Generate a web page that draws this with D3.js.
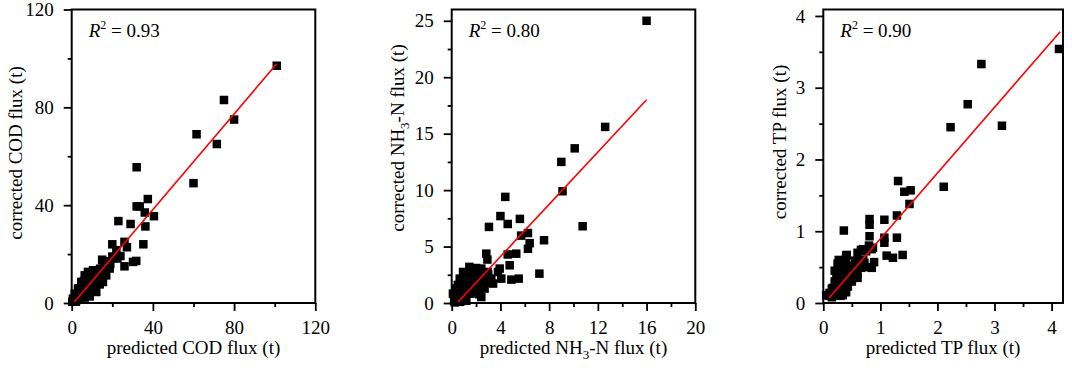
<!DOCTYPE html>
<html>
<head>
<meta charset="utf-8">
<script src="https://cdn.jsdelivr.net/npm/d3@7"></script>
<style>
  body { margin: 0; background: #fff; }
  svg text { font-family: "Liberation Serif", "Times New Roman", serif; fill: #000; }
</style>
</head>
<body>
<div id="chart"></div>
<script>
/* three scatter panels: predicted vs corrected flux */

// COD panel: [predicted, corrected]
const codData = [
  [101, 97], [75, 83], [80, 75], [61.5, 69], [71.5, 65], [60, 49], [32, 55.5],
  [37.5, 42.5], [32, 39.5], [33.5, 39.5], [36, 37], [40.5, 35.5], [36.3, 31.3],
  [23, 33.5], [29, 32.3], [35.3, 24], [20, 24], [26, 25], [27.2, 22.8], [22, 21.6],
  [24, 19.2], [31.8, 17.2], [30.2, 16.8], [26, 15], [15, 17.7], [17, 16.8],
  [20.8, 18.4], [22.5, 18.2], [18.7, 14.1], [10.5, 13.4], [8, 12.7], [6.4, 11.3],
  [13.8, 11.3], [17, 11.3], [15.4, 12.7], [12.1, 10], [4.7, 8.6], [8, 7.9],
  [13.8, 7.6], [15.4, 8.6], [10.5, 5.9], [3.1, 5.9], [7.2, 5.2], [12.1, 4.5],
  [1.5, 3.8], [5.6, 3.1], [8.9, 2.7], [0.6, 1.8], [3.9, 1.8], [2.3, 1.1],
  [0.3, 0.5], [6.4, 2.2], [9, 9.5], [11, 8], [6, 7], [7, 9], [4, 4], [3, 2.8],
  [12, 12.5], [14, 14], [16, 15], [18, 17], [9, 11], [11, 10.5], [5, 6.5],
  [2, 2], [3, 4], [4, 6], [5, 8], [6, 9], [7, 11], [8, 10], [9, 7], [10, 9],
  [11, 12], [12, 9], [13, 10], [14, 12], [15, 14], [16, 13], [17, 15], [19, 16],
  [20, 19], [2, 0.5], [5, 3], [7, 4], [9, 5], [10, 6.5], [13, 8.5]
];

// NH3-N panel
const nhData = [
  [16, 25], [12.6, 15.6], [10.1, 13.7], [9, 12.5], [9.1, 9.9], [10.75, 6.8],
  [4.4, 9.4], [4, 7.7], [4.6, 7], [3.06, 6.74], [5.6, 7.45], [5.7, 5.97],
  [6.26, 6.2], [6.4, 5.3], [6.26, 4.8], [7.58, 5.56], [7.2, 2.6], [2.84, 4.37],
  [2.93, 3.85], [4.6, 4.3], [5.3, 4.37], [4.76, 3.34], [3.94, 3.05], [4.07, 2.16],
  [4.9, 2.07], [5.5, 2.16], [0.93, 2.75], [1.48, 2.46], [2.43, 3.05], [2.3, 2.3],
  [2.95, 2.75], [3.25, 2.16], [1.9, 1.86], [2.57, 1.72], [0.66, 2.16], [1.07, 1.86],
  [0.38, 1.28], [0.1, 0.83], [1.34, 1.42], [2.16, 1.28], [2.43, 0.53], [0.93, 0.68],
  [1.6, 0.98], [0.38, 0.39], [1.2, 0.2], [0.25, 0.05], [2.7, 1.28], [3.4, 1.72],
  [3.8, 2.75], [1.45, 3.2], [2.2, 2.6], [1.55, 0.83], [2.27, 0.77], [3.1, 1.86],
  [0.7, 1.2], [1.8, 2.2], [0.5, 0.9], [1.1, 0.4],
  [0.3, 0.5], [0.6, 0.3], [0.8, 1], [1, 1.4], [1.2, 1], [1.4, 1.8], [1.6, 1.5],
  [1.8, 1.2], [2, 1.8], [2.2, 1.5], [0.5, 1.6], [1.3, 2.6], [1.7, 2.8], [2, 3.1],
  [2.6, 2.4], [2.8, 2], [3, 2.5], [1, 0.6], [0.2, 0.2], [0.7, 0.1]
];

// TP panel
const tpData = [
  [4.13, 3.54], [2.77, 3.33], [2.53, 2.77], [2.23, 2.45], [3.13, 2.47], [2.11, 1.62],
  [1.31, 1.7], [1.42, 1.55], [1.53, 1.57], [1.51, 1.38], [1.29, 1.22], [1.07, 1.16],
  [0.81, 1.17], [0.81, 1.09], [0.36, 1.01], [0.81, 0.93], [1.07, 0.91], [1.07, 0.84],
  [1.29, 0.91], [0.87, 0.77], [0.66, 0.74], [0.75, 0.72], [0.41, 0.67], [0.31, 0.58],
  [0.56, 0.59], [1.11, 0.66], [1.22, 0.63], [1.39, 0.67], [0.89, 0.57], [0.85, 0.49],
  [0.72, 0.56], [0.29, 0.44], [0.43, 0.44], [0.66, 0.49], [0.58, 0.42], [0.49, 0.35],
  [0.37, 0.33], [0.26, 0.28], [0.43, 0.23], [0.17, 0.21], [0.3, 0.19], [0.11, 0.14],
  [0.22, 0.12], [0.34, 0.11], [0.05, 0.11], [0.15, 0.08], [0.29, 0.4], [0.23, 0.36],
  [0.34, 0.51], [0.26, 0.49], [0.43, 0.52], [0.52, 0.51], [0.2, 0.3], [0.6, 0.4],
  [0.1, 0.1], [0.15, 0.2], [0.2, 0.15], [0.25, 0.25], [0.3, 0.3], [0.35, 0.25],
  [0.4, 0.35], [0.45, 0.3], [0.5, 0.4], [0.55, 0.45], [0.6, 0.5], [0.65, 0.55],
  [0.7, 0.6], [0.75, 0.5], [0.2, 0.45], [0.25, 0.55], [0.3, 0.5], [0.35, 0.45],
  [0.4, 0.6], [0.6, 0.7], [0.7, 0.75], [0.8, 0.8], [0.85, 0.75], [0.5, 0.3],
  [0.6, 0.35], [0.3, 0.1], [0.4, 0.15], [0.27, 0.6], [0.4, 0.66]
];

// fitted lines, start and end in data units
const codFit = [[1.2, 0.3], [101, 97.8]];
const nhFit = [[0.45, 0], [16, 18]];
const tpFit = [[0.1, 0.07], [4.15, 3.78]];

const codR2 = "0.93", nhR2 = "0.80", tpR2 = "0.90";

const codMajor = [0, 40, 80, 120], codMinor = [20, 60, 100];
const nhXMajor = [0, 4, 8, 12, 16, 20], nhXMinor = [2, 6, 10, 14, 18];
const nhYMajor = [0, 5, 10, 15, 20, 25], nhYMinor = [2.5, 7.5, 12.5, 17.5, 22.5];
const tpMajor = [0, 1, 2, 3, 4], tpMinor = [0.5, 1.5, 2.5, 3.5];

const width = 1072, height = 368;
const plotTop = 9.5, plotBottom = 303;

const svg = d3.select("#chart")
    .append("svg")
    .attr("width", width)
    .attr("height", height);

const panels = [
  { data: codData, fit: codFit, r2: codR2, left: 71.7, right: 315.3,
    xDom: [0, 120], yDom: [0, 120],
    xMajor: codMajor, xMinor: codMinor, yMajor: codMajor, yMinor: codMinor,
    xLabel: ["predicted COD flux (t)"], yLabel: ["corrected COD flux (t)"],
    yLabX: 16, yLabY: 153 },
  { data: nhData, fit: nhFit, r2: nhR2, left: 451.7, right: 695.3,
    xDom: [0, 20], yDom: [0, 26],
    xMajor: nhXMajor, xMinor: nhXMinor, yMajor: nhYMajor, yMinor: nhYMinor,
    xLabel: ["predicted NH", "3", "-N flux (t)"], yLabel: ["corrected NH", "3", "-N flux (t)"],
    yLabX: 397.5, yLabY: 138 },
  { data: tpData, fit: tpFit, r2: tpR2, left: 823.3, right: 1063,
    xDom: [0, 4.2], yDom: [0, 4.09],
    xMajor: tpMajor, xMinor: tpMinor, yMajor: tpMajor, yMinor: tpMinor,
    xLabel: ["predicted TP flux (t)"], yLabel: ["corrected TP flux (t)"],
    yLabX: 780, yLabY: 142 }
];

// writes label text, with a subscript when split in three parts
function addLabel(t, parts) {
  t.append("tspan").text(parts[0]);
  if (parts.length > 1) {
    t.append("tspan").text(parts[1]).attr("dy", 5).style("font-size", "13px");
    t.append("tspan").text(parts[2]).attr("dy", -5);
  }
}

panels.forEach(p => {
  let x = d3.scaleLinear().domain(p.xDom).range([p.left, p.right]);
  let y = d3.scaleLinear().domain(p.yDom).range([plotBottom, plotTop]);

  let g = svg.append("g");

  // minor ticks
  g.append("g")
      .attr("transform", `translate(0,${plotBottom})`)
      .call(d3.axisBottom(x).tickValues(p.xMinor).tickSize(4).tickFormat(""))
      .call(a => a.select(".domain").remove());
  g.append("g")
      .attr("transform", `translate(${p.left},0)`)
      .call(d3.axisLeft(y).tickValues(p.yMinor).tickSize(4).tickFormat(""))
      .call(a => a.select(".domain").remove());

  // major ticks with labels
  g.append("g")
      .attr("transform", `translate(0,${plotBottom})`)
      .call(d3.axisBottom(x).tickValues(p.xMajor).tickSize(8).tickPadding(10).tickFormat(d3.format("")))
      .call(a => a.select(".domain").remove());
  g.append("g")
      .attr("transform", `translate(${p.left},0)`)
      .call(d3.axisLeft(y).tickValues(p.yMajor).tickSize(8).tickPadding(10).tickFormat(d3.format("")))
      .call(a => a.select(".domain").remove());

  g.selectAll(".tick line").attr("stroke", "#000").attr("stroke-width", 1.8);
  g.selectAll(".tick text")
      .style("font-family", "'Liberation Serif', serif")
      .style("font-size", "19px")
      .attr("fill", "#000");

  // points
  g.selectAll(".pt")
    .data(p.data)
    .join("rect")
      .attr("class", "pt")
      .attr("x", d => x(d[0]) - 4.25)
      .attr("y", d => y(d[1]) - 4.25)
      .attr("width", 8.5)
      .attr("height", 8.5)
      .attr("fill", "#000");

  // regression line
  g.append("line")
      .attr("x1", x(p.fit[0][0])).attr("y1", y(p.fit[0][1]))
      .attr("x2", x(p.fit[1][0])).attr("y2", y(p.fit[1][1]))
      .attr("stroke", "#ff0000")
      .attr("stroke-width", 1.6);

  // frame
  g.append("rect")
      .attr("x", p.left).attr("y", plotTop)
      .attr("width", p.right - p.left).attr("height", plotBottom - plotTop)
      .attr("fill", "none")
      .attr("stroke", "#000")
      .attr("stroke-width", 2);

  // R2 text
  let r = g.append("text")
      .attr("x", p.left + 17)
      .attr("y", 37)
      .style("font-size", "19px");
  r.append("tspan").text("R").style("font-style", "italic");
  r.append("tspan").text("2").attr("dy", -8).style("font-size", "12px");
  r.append("tspan").text(" = " + p.r2).attr("dy", 8);

  // axis titles
  let xt = g.append("text")
      .attr("x", (p.left + p.right) / 2)
      .attr("y", 354)
      .attr("text-anchor", "middle")
      .style("font-size", "19px");
  addLabel(xt, p.xLabel);

  let yt = g.append("text")
      .attr("transform", `translate(${p.yLabX + 6},${p.yLabY}) rotate(-90)`)
      .attr("text-anchor", "middle")
      .style("font-size", "19px");
  addLabel(yt, p.yLabel);
});
</script>
</body>
</html>
